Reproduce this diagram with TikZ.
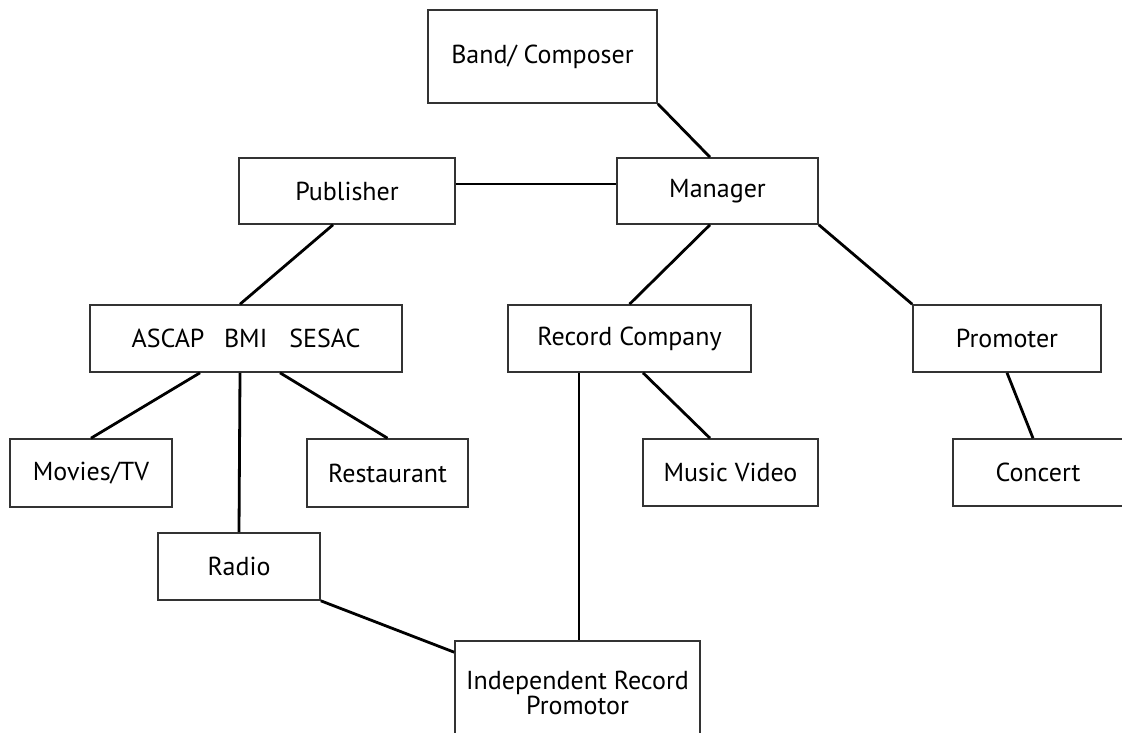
\documentclass[tikz,border=0pt]{standalone}
\usepackage{fontspec}
\setmainfont{PT Sans}
\usetikzlibrary{positioning}
\begin{document}
\begin{tikzpicture}[x=1pt,y=-1pt,
  entity/.style={draw=black!80, line width=1.6pt, fill=white, rectangle,
    inner sep=0pt, align=center, font=\fontsize{26}{22}\selectfont},
  link/.style={draw=black, line width=2.8pt}]
  \useasboundingbox (0,0) rectangle (1122,733);
  \begin{scope}
  \clip (0,0) rectangle (1122,733);
  % boxes, placed by their centres
  \node[entity, minimum width=229pt, minimum height=93pt] (band) at (542.5,56.5) {Band/ Composer};
  \node[entity, minimum width=201pt, minimum height=66pt] (manager) at (717.5,191) {Manager};
  \node[entity, minimum width=216pt, minimum height=66pt] (publisher) at (347,191) {Publisher};
  \node[entity, minimum width=312pt, minimum height=67pt] (ascap) at (246,338.5) {ASCAP\hspace{0.75em}BMI\hspace{0.85em}SESAC};
  \node[entity, minimum width=243pt, minimum height=67pt] (record) at (629.5,338.5) {Record Company};
  \node[entity, minimum width=188pt, minimum height=67pt] (promoter) at (1007,338.5) {Promoter};
  \node[entity, minimum width=162pt, minimum height=68pt] (movies) at (91,473) {Movies/TV};
  \node[entity, minimum width=161pt, minimum height=68pt] (restaurant) at (387.5,473) {Restaurant};
  \node[entity, minimum width=175pt, minimum height=67pt] (video) at (730.5,472.5) {Music Video};
  \node[entity, minimum width=170pt, minimum height=67pt] (concert) at (1038,472.5) {Concert};
  \node[entity, minimum width=162pt, minimum height=67pt] (radio) at (239,566.5) {Radio};
  \node[entity, minimum width=245pt, minimum height=104pt] (indep) at (577.5,693) {Independent Record\\Promotor};
  % connectors
  \draw[link] (band.south east) -- ([xshift=-7.5pt]manager.north);
  \draw[link] ([yshift=7pt]publisher.east) -- ([yshift=7pt]manager.west);
  \draw[link] ([xshift=-14pt]publisher.south) -- ([xshift=-6pt]ascap.north);
  \draw[link] ([xshift=-7.5pt]manager.south) -- (record.north);
  \draw[link] (manager.south east) -- (promoter.north west);
  \draw[link] ([xshift=-46pt]ascap.south) -- (movies.north);
  \draw[link] ([xshift=-6pt]ascap.south) -- (radio.north);
  \draw[link] ([xshift=34pt]ascap.south) -- (restaurant.north);
  \draw[link] ([xshift=13.5pt]record.south) -- ([xshift=-20.5pt]video.north);
  \draw[link] ([xshift=-50.5pt]record.south) -- ([xshift=1.5pt]indep.north);
  \draw[link] (promoter.south) -- ([xshift=-5pt]concert.north);
  \draw[link] (radio.south east) -- ([yshift=-12pt]indep.north west);
  \end{scope}
\end{tikzpicture}
\end{document}
